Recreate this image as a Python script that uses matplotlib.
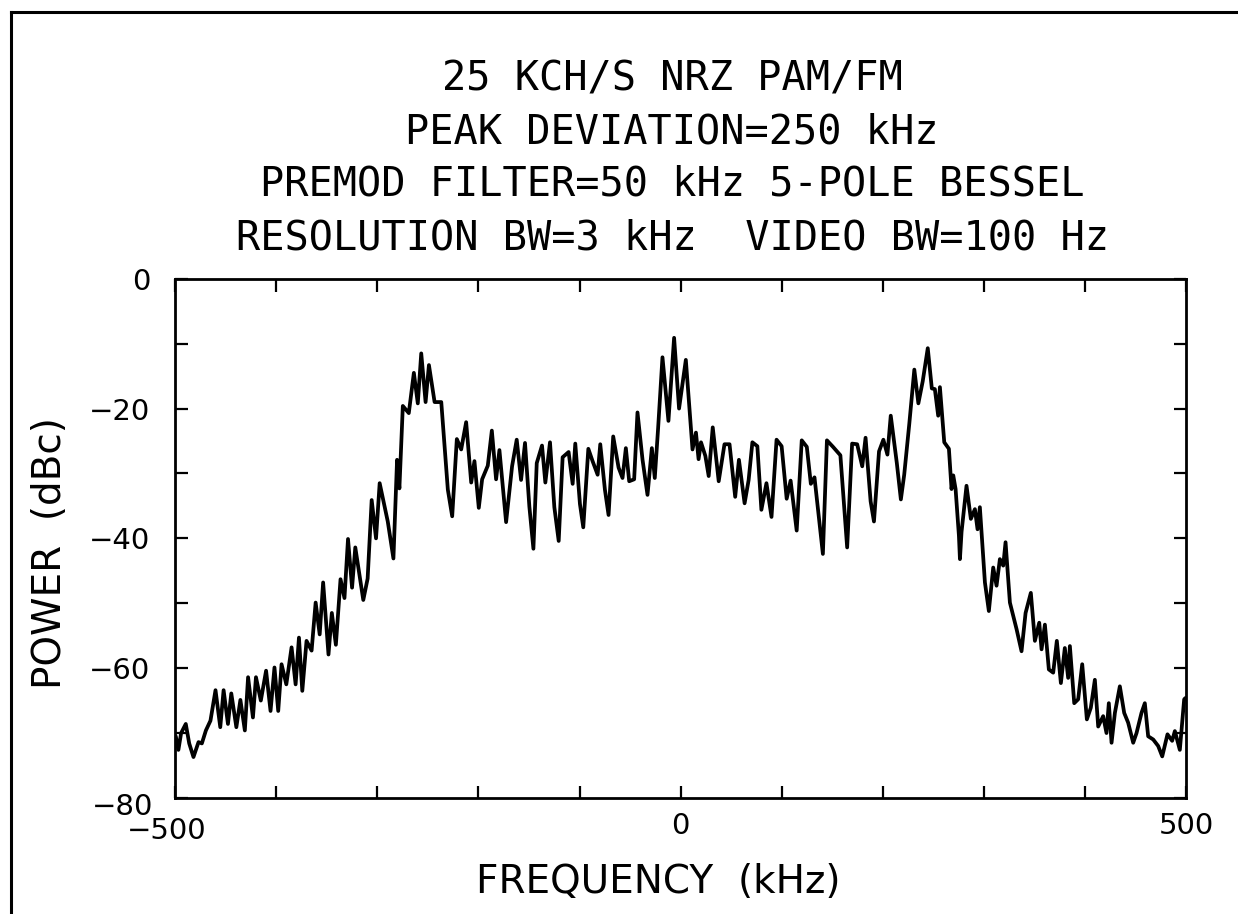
import matplotlib
matplotlib.use("Agg")
import matplotlib.pyplot as plt
import matplotlib.transforms as mtransforms
from matplotlib.lines import Line2D

# spectrum trace (kHz, dBc)
freq_khz = [
    -499.3, -496.7, -494.0, -489.4, -486.0, -481.8, -476.8, -473.5, -469.5, -465.0,
    -460.0, -455.3, -452.0, -447.7, -444.4, -439.4, -435.4, -431.0, -427.8, -423.0,
    -420.0, -415.2, -410.0, -405.6, -401.7, -398.0, -394.7, -390.0, -384.8, -380.8,
    -377.5, -374.2, -370.0, -365.0, -361.0, -357.0, -353.6, -348.3, -345.0, -341.0,
    -336.4, -332.5, -329.0, -325.0, -321.8, -313.9, -309.6, -305.6, -301.3, -297.7,
    -289.7, -284.1, -280.5, -278.2, -274.8, -268.9, -263.9, -260.0, -256.6, -252.3,
    -249.0, -243.4, -236.8, -230.3, -226.0, -221.4, -217.1, -212.2, -207.2, -204.0,
    -199.7, -196.4, -190.8, -186.8, -182.6, -179.3, -172.7, -166.8, -162.2, -157.9,
    -154.0, -149.7, -145.7, -142.4, -137.2, -133.9, -129.3, -125.0, -120.7, -116.8,
    -110.9, -106.9, -104.3, -99.7, -96.4, -91.4, -87.2, -82.2, -79.6, -75.0,
    -71.4, -66.8, -61.5, -57.6, -54.3, -51.0, -46.1, -42.8, -37.8, -32.9,
    -28.6, -25.7, -22.4, -18.1, -12.2, -6.6, -1.7, 5.0, 11.6, 15.0,
    17.6, 20.0, 24.3, 27.6, 31.6, 37.5, 43.2, 48.2, 53.8, 57.5,
    63.1, 67.1, 70.8, 75.7, 79.7, 84.7, 89.7, 94.7, 99.7, 104.7,
    108.6, 114.6, 119.6, 124.6, 128.6, 132.2, 140.5, 144.5, 150.5, 157.8,
    164.5, 169.4, 174.4, 179.4, 182.7, 187.7, 191.0, 196.0, 200.3, 204.3,
    207.6, 213.6, 217.6, 220.9, 225.9, 230.9, 234.9, 239.2, 244.2, 248.2,
    251.2, 254.5, 256.2, 260.5, 265.1, 267.7, 269.4, 271.7, 275.0, 276.0,
    277.6, 282.5, 286.8, 290.8, 293.4, 295.7, 300.7, 304.6, 308.9, 312.2,
    315.5, 318.8, 321.1, 325.4, 332.0, 336.9, 340.9, 346.1, 350.1, 354.4,
    356.7, 360.0, 363.9, 368.2, 371.8, 375.8, 379.7, 383.0, 384.7, 389.0,
    392.9, 396.9, 401.5, 405.4, 409.4, 412.7, 417.6, 420.9, 423.2, 425.9,
    429.2, 434.1, 438.4, 442.3, 447.3, 450.6, 455.5, 458.8, 462.1, 467.1,
    472.0, 476.0, 481.2, 485.8, 488.5, 493.4, 497.7, 499.0,
]
power_dbc = [
    -70.5, -72.6, -70.0, -68.6, -71.6, -73.7, -71.4, -71.6, -69.6, -68.1,
    -63.4, -69.1, -63.4, -68.6, -63.9, -69.1, -64.9, -69.6, -61.4, -67.6,
    -61.4, -65.0, -60.4, -66.6, -59.9, -66.6, -59.4, -62.5, -56.8, -62.5,
    -55.3, -63.5, -55.8, -57.3, -49.9, -54.8, -46.8, -57.9, -51.5, -56.4,
    -46.3, -49.2, -40.1, -47.6, -41.4, -49.5, -46.2, -34.1, -40.0, -31.5,
    -37.4, -43.1, -27.9, -32.3, -19.6, -20.7, -14.5, -19.2, -11.5, -19.0,
    -13.3, -19.0, -19.0, -32.5, -36.6, -24.7, -26.3, -22.1, -31.4, -28.1,
    -35.3, -30.9, -28.8, -23.4, -30.9, -26.4, -37.5, -28.9, -24.8, -31.0,
    -25.3, -35.1, -41.6, -28.4, -25.7, -31.4, -25.2, -35.2, -40.4, -27.5,
    -26.7, -31.6, -25.4, -34.7, -38.3, -26.2, -28.1, -30.2, -25.5, -32.5,
    -36.4, -24.3, -29.1, -30.7, -26.1, -31.2, -30.9, -20.6, -27.9, -33.3,
    -26.1, -30.7, -23.0, -12.1, -21.9, -9.1, -20.0, -12.5, -26.3, -23.7,
    -27.8, -25.2, -27.3, -30.4, -22.9, -31.2, -25.5, -25.5, -33.6, -27.9,
    -34.6, -31.0, -25.2, -25.8, -35.6, -31.5, -36.7, -24.8, -25.8, -33.9,
    -31.1, -38.8, -24.9, -25.9, -31.6, -30.6, -42.4, -24.9, -25.9, -27.2,
    -41.4, -25.4, -25.5, -28.9, -24.5, -34.3, -37.4, -26.6, -24.8, -27.1,
    -21.1, -28.4, -34.0, -30.2, -22.4, -14.0, -19.2, -15.8, -10.7, -16.9,
    -17.0, -21.1, -16.7, -25.2, -26.2, -32.4, -30.3, -32.4, -39.6, -43.2,
    -39.0, -31.9, -37.0, -35.5, -38.6, -35.2, -46.8, -51.2, -44.5, -47.3,
    -43.2, -44.2, -40.6, -49.9, -54.0, -57.4, -51.5, -48.4, -55.8, -53.0,
    -57.1, -53.3, -60.2, -60.7, -55.8, -62.3, -56.9, -61.5, -56.6, -65.4,
    -64.8, -59.4, -67.9, -66.1, -61.8, -69.0, -67.4, -70.0, -65.4, -71.5,
    -66.9, -62.8, -66.9, -68.4, -71.5, -70.0, -66.9, -65.4, -70.5, -71.0,
    -72.0, -73.6, -70.2, -71.2, -69.7, -72.6, -64.8, -64.6,
]

title_lines = [
    "25 KCH/S NRZ PAM/FM",
    "PEAK DEVIATION=250 kHz",
    "PREMOD FILTER=50 kHz 5-POLE BESSEL",
    "RESOLUTION BW=3 kHz  VIDEO BW=100 Hz",
]
title_y = [0.9015, 0.8435, 0.7856, 0.7265]
x_major = [-500, 0, 500]
x_minor = [-400, -300, -200, -100, 100, 200, 300, 400]
y_major = [0, -20, -40, -60, -80]
y_minor = [-10, -30, -50, -70]

fig = plt.figure(figsize=(12.38, 9.14), dpi=100)
ax = fig.add_axes([0.1414, 0.127, 0.817, 0.568])

ax.plot(freq_khz, power_dbc, color="black", lw=2.7,
        solid_joinstyle="round", solid_capstyle="round")

ax.set_xlim(-500, 500)
ax.set_ylim(-80, 0)
ax.set_xticks(x_major)
ax.set_xticks(x_minor, minor=True)
ax.set_yticks(y_major)
ax.set_yticks(y_minor, minor=True)
ax.set_xticklabels([str(v).replace("-", "\u2212") for v in x_major])
ax.set_yticklabels([str(v).replace("-", "\u2212") for v in y_major])

for s in ax.spines.values():
    s.set_linewidth(2.0)
ax.tick_params(which="both", direction="in", length=9, width=1.6,
               top=True, right=True, labelsize=21)
ax.tick_params(axis="y", pad=18)
ax.tick_params(axis="x", pad=10)

# in the original the -80 and -500 labels are nudged apart at the corner
lab80 = ax.get_yticklabels()[-1]
lab80.set_transform(lab80.get_transform() +
                    mtransforms.ScaledTranslation(0.03, -0.06, fig.dpi_scale_trans))
lab500 = ax.get_xticklabels()[0]
lab500.set_transform(lab500.get_transform() +
                     mtransforms.ScaledTranslation(-0.08, -0.05, fig.dpi_scale_trans))

for line, y in zip(title_lines, title_y):
    fig.text(0.543, y, line, family="DejaVu Sans Mono", fontsize=29,
             ha="center", va="baseline")

fig.text(0.532, 0.035, "FREQUENCY  (kHz)", fontsize=28, ha="center", va="center")
fig.text(0.040, 0.395, "POWER  (dBc)", fontsize=28, rotation=90,
         ha="center", va="center")

# page frame (top and left edges)
fig.add_artist(Line2D([0.0089, 1.0], [0.9869, 0.9869], color="black", lw=2.2))
fig.add_artist(Line2D([0.0089, 0.0089], [0.0, 0.9869], color="black", lw=2.2))

fig.savefig("out.png", dpi=100)
